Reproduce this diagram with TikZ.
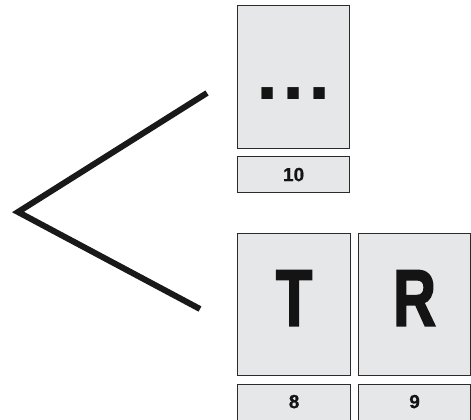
\documentclass[tikz,border=0pt]{standalone}
\usepackage{fontspec}
\setmainfont{Liberation Sans}
\newfontfamily\heavyfont[FakeBold=2.5]{Liberation Sans Bold}
\newfontfamily\numfont[FakeBold=0.6]{Liberation Sans Bold}
\definecolor{boxfill}{HTML}{E6E7E8}
\definecolor{boxline}{HTML}{2B2B2B}
\begin{document}
\begin{tikzpicture}[x=1pt,y=-1pt,
  card/.style={draw=boxline,fill=boxfill,line width=1.2pt,inner sep=0pt,anchor=north west},
  biglet/.style={font=\heavyfont\fontsize{80}{80}\selectfont,text=black!92,inner sep=0pt},
  dotsty/.style={font=\bfseries\fontsize{80}{80}\selectfont,text=black!92,inner sep=0pt},
  num/.style={font=\numfont\fontsize{19}{19}\selectfont,text=black!92,inner sep=0pt},
  branch/.style={line width=6pt,draw=black!90}]
\useasboundingbox (0,0) rectangle (471,420);
% top card
\node[card,minimum width=112pt,minimum height=143pt] (topcard) at (237,5) {};
\node[dotsty,yshift=-16.5pt] (dots) at (topcard.center) {.\kern4pt.\kern4pt.};
\node[card,minimum width=112pt,minimum height=36pt] (toplab) at (237,156) {};
\node[num] (n10) at (toplab.center) {10};
% bottom cards
\node[card,minimum width=113pt,minimum height=142pt] (tcard) at (237,233) {};
\node[biglet,yshift=6.5pt] (T) at (tcard.center) {\scalebox{0.74}[1]{T}};
\node[card,minimum width=112pt,minimum height=142pt] (rcard) at (358,233) {};
\node[biglet,yshift=6.5pt] (R) at (rcard.center) {\scalebox{0.74}[1]{R}};
\node[card,minimum width=113pt,minimum height=40pt] (tlab) at (237,384) {};
\node[num,yshift=3pt] (n8) at (tlab.center) {8};
\node[card,minimum width=112pt,minimum height=40pt] (rlab) at (358,384) {};
\node[num,yshift=3pt] (n9) at (rlab.center) {9};
% branch
\coordinate (apex) at (18,212);
\coordinate (upend) at (207,93);
\coordinate (downend) at (200,309);
\draw[branch,line join=miter] (upend) -- (apex) -- (downend);
\end{tikzpicture}
\end{document}
